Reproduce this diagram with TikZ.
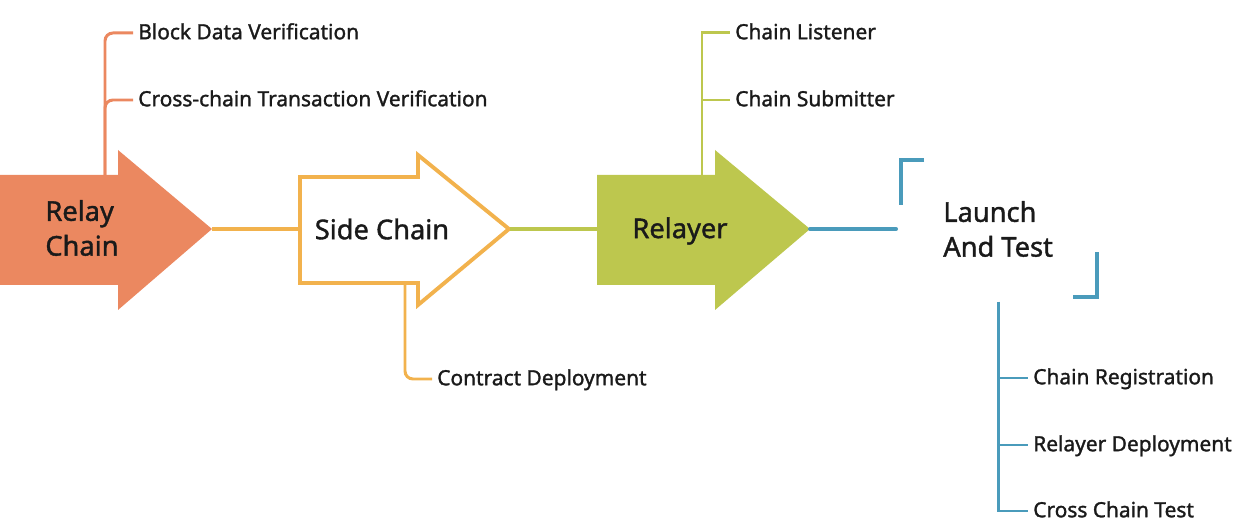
\documentclass[tikz,border=0pt]{standalone}
\usepackage{fontspec}
\setmainfont{Noto Sans}[FakeBold=1.4]
\usetikzlibrary{positioning}
\definecolor{relayorange}{RGB}{235,136,96}
\definecolor{sideyellow}{RGB}{242,178,77}
\definecolor{relayergreen}{RGB}{189,199,78}
\definecolor{launchblue}{RGB}{74,155,187}
\definecolor{inkdark}{RGB}{26,26,26}
\tikzset{
    stagetext/.style={
        font=\fontsize{15.5}{19.8}\selectfont,
        align=left,
        text=inkdark,
        inner sep=0pt
    },
    leaf/.style={
        anchor=west,
        inner xsep=2.8pt,
        inner ysep=0pt,
        text height=0.71em,
        text depth=0pt,
        text=inkdark,
        font=\fontsize{11.9}{14}\selectfont
    },
    branch/.style={
        draw=#1,
        line width=1.7pt
    },
    link/.style={
        draw=#1,
        line width=2pt
    }
}

\begin{document}
\begin{tikzpicture}[x=0.02cm, y=-0.02cm]
    \useasboundingbox (0,0) rectangle (1242,526);

    % arrows
    \fill[relayorange] (0,175) -- (118,175) -- (118,150) -- (212,229) -- (118,310) -- (118,285) -- (0,285) -- cycle;
    \draw[sideyellow, line width=2.2pt, line join=miter] (300,177) -- (418,177) -- (418,155) -- (509,229) -- (418,305) -- (418,283) -- (300,283) -- cycle;
    \fill[relayergreen] (597,175) -- (715,175) -- (715,150) -- (810,229) -- (715,310) -- (715,285) -- (597,285) -- cycle;

    \coordinate (relaytip) at (212,229);
    \coordinate (relaytop) at (105,175);
    \coordinate (sidein) at (300,229);
    \coordinate (sidetip) at (510,229);
    \coordinate (sidebottom) at (405,284);
    \coordinate (relayerin) at (597,229);
    \coordinate (relayertip) at (810,229);
    \coordinate (relayertop) at (702,175);
    \coordinate (launchin) at (896,229);
    \coordinate (launchbottom) at (998,302);

    \node[stagetext] (relay) at (82,228) {Relay\\Chain};
    \node[stagetext] (side) at (382,229) {Side Chain};
    \node[stagetext] (relayer) at (680,231) {Relayer};
    \node[stagetext, anchor=west] (launch) at (943,229) {Launch\\And Test};

    % brackets round the last stage
    \draw[launchblue, line width=2.3pt] (924,160) -- (901,160) -- (901,205);
    \draw[launchblue, line width=2.3pt] (1073,297) -- (1097,297) -- (1097,252);

    % links
    \draw[link=sideyellow] (relaytip) -- (sidein);
    \draw[link=relayergreen] (sidetip) -- (relayerin);
    \draw[link=launchblue, line width=2.3pt, line cap=round] (relayertip) -- (launchin);

    % leaves
    \node[leaf] (blockdata) at (133,33) {Block Data Verification};
    \node[leaf] (crosstx) at (133,100) {Cross-chain Transaction Verification};
    \node[leaf] (contract) at (432,379) {Contract Deployment};
    \node[leaf] (listener) at (730,33) {Chain Listener};
    \node[leaf] (submitter) at (730,100) {Chain Submitter};
    \node[leaf] (chainreg) at (1028,378) {Chain Registration};
    \node[leaf] (relayerdep) at (1028,445) {Relayer Deployment};
    \node[leaf] (crosstest) at (1028,511) {Cross Chain Test};

    \draw[branch=relayorange, rounded corners=4.5pt] (relaytop) |- (blockdata.west);
    \draw[branch=relayorange, rounded corners=4.5pt] (relaytop) |- (crosstx.west);
    \draw[branch=sideyellow, rounded corners=4.5pt] (sidebottom) |- (contract.west);
    \draw[branch=relayergreen] (relayertop) |- (listener.west);
    \draw[branch=relayergreen] (relayertop) |- (submitter.west);
    \draw[branch=launchblue] (launchbottom) |- (chainreg.west);
    \draw[branch=launchblue] (launchbottom) |- (relayerdep.west);
    \draw[branch=launchblue] (launchbottom) |- (crosstest.west);
\end{tikzpicture}
\end{document}
